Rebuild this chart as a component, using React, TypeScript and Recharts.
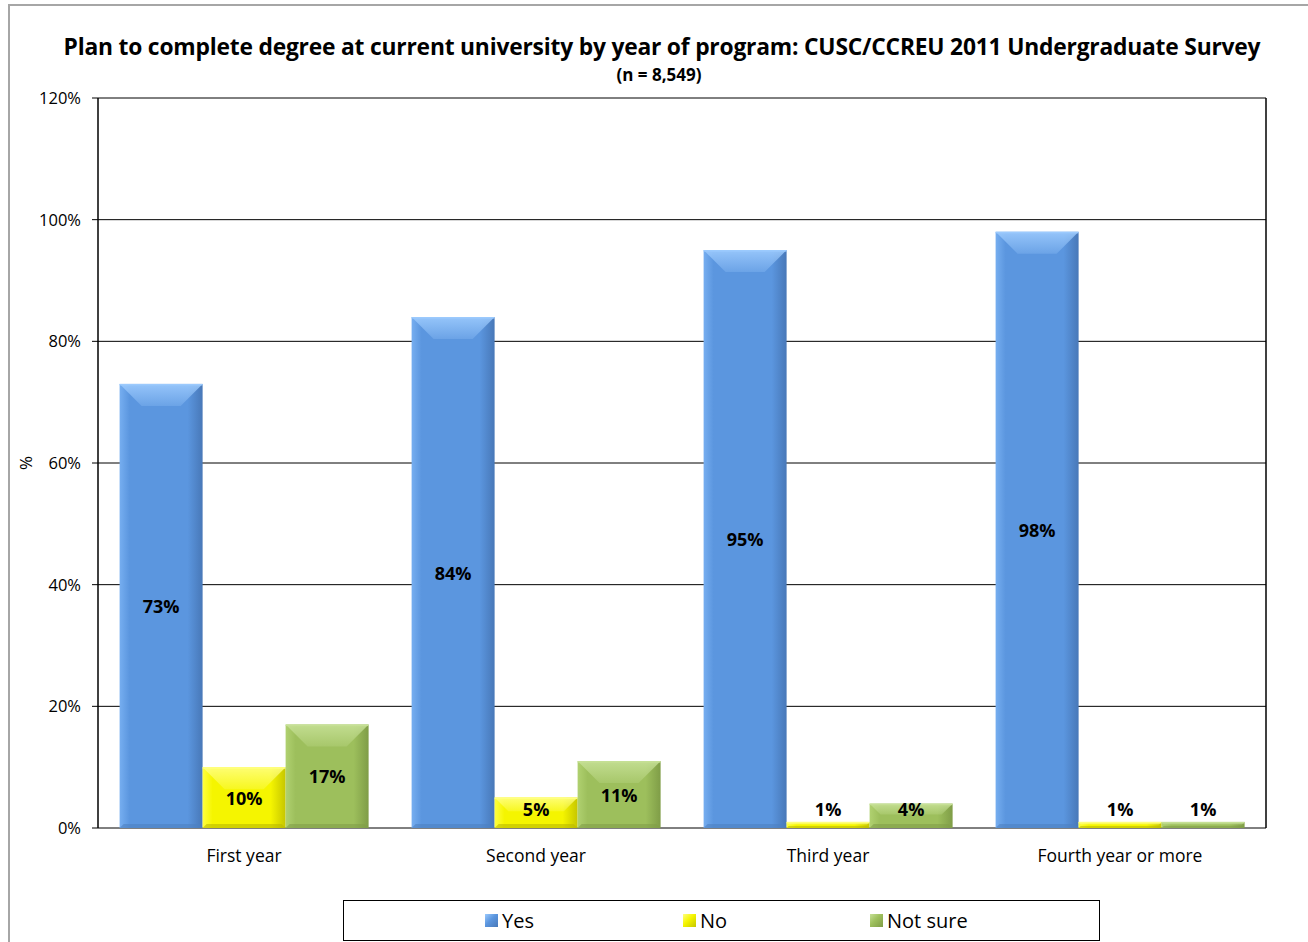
import React from "react";
import { BarChart, Bar, XAxis, YAxis, CartesianGrid, LabelList, ReferenceLine } from "recharts";

// Survey responses by year of program (percent of respondents)
const years = ["First year", "Second year", "Third year", "Fourth year or more"];
const yes = [73, 84, 95, 98];
const no = [10, 5, 1, 1];
const notSure = [17, 11, 4, 1];
const yTicks = [0, 20, 40, 60, 80, 100, 120];

const rows = years.map((year, i) => ({ year, yes: yes[i], no: no[i], notSure: notSure[i], pos: i }));

type Tone = { base: string; light: string; top: string; dark: string; bottom: string };

const TONES: Record<string, Tone> = {
  yes: { base: "#5b96df", light: "#76aef0", top: "#9ccafd", dark: "#4878b8", bottom: "#4d80c2" },
  no: { base: "#f5f500", light: "#ffff40", top: "#ffff80", dark: "#c6c600", bottom: "#b9b900" },
  notSure: { base: "#9dbf5c", light: "#b0d170", top: "#c6e096", dark: "#7f9d47", bottom: "#809e48" },
};

const FONT = "'Open Sans', 'Noto Sans', sans-serif";
const PLOT_BOTTOM = 828;

function BevelBar(props: any) {
  const { x, y, width: w, height: h, toneKey } = props;
  if (!w || h <= 0) return null;
  const t = TONES[toneKey];
  const b = Math.min(22, w * 0.27, h * 0.45);
  const s = Math.min(4, w / 6, h / 3);
  const id = `grad-${toneKey}`;
  const topId = `top-${toneKey}`;
  return (
    <g>
      <defs>
        <linearGradient id={id} x1="0" y1="0" x2="1" y2="0">
          <stop offset="0" stopColor={t.light} />
          <stop offset="0.12" stopColor={t.base} />
          <stop offset="0.82" stopColor={t.base} />
          <stop offset="1" stopColor={t.dark} />
        </linearGradient>
        <linearGradient id={topId} x1="0" y1="0" x2="0" y2="1">
          <stop offset="0" stopColor={t.top} stopOpacity={0.9} />
          <stop offset="1" stopColor={t.top} stopOpacity={0.25} />
        </linearGradient>
      </defs>
      <rect x={x} y={y} width={w} height={h} fill={`url(#${id})`} />
      <polygon
        points={`${x},${y} ${x + w},${y} ${x + w - b},${y + b} ${x + b},${y + b}`}
        fill={`url(#${topId})`}
      />
      <polygon
        points={`${x},${y + h} ${x + w},${y + h} ${x + w - s},${y + h - s} ${x + s},${y + h - s}`}
        fill={t.bottom}
        opacity={0.6}
      />
      <rect x={x} y={y} width={w} height={Math.min(1.5, h)} fill={t.top} />
    </g>
  );
}

function ValueLabel(props: any) {
  const { x, y, width, height, value } = props;
  const cy = Math.min(y + height / 2, PLOT_BOTTOM - 19);
  return (
    <text
      x={x + width / 2}
      y={cy}
      textAnchor="middle"
      dominantBaseline="central"
      fontFamily={FONT}
      fontWeight={700}
      fontSize={18}
      fill="#000"
    >
      {`${value}%`}
    </text>
  );
}

function LegendItem({ label, toneKey, width }: { label: string; toneKey: string; width: number }) {
  const t = TONES[toneKey];
  return (
    <div style={{ display: "flex", alignItems: "center", width }}>
      <div
        style={{
          width: 13,
          height: 13,
          marginRight: 4,
          background: `linear-gradient(135deg, ${t.top} 0%, ${t.base} 45%, ${t.dark} 100%)`,
        }}
      />
      <span>{label}</span>
    </div>
  );
}

export default function App() {
  return (
    <div
      style={{
        position: "fixed",
        left: 0,
        top: 0,
        width: 1308,
        height: 942,
        overflow: "hidden",
        background: "#fff",
        fontFamily: FONT,
      }}
    >
      <div
        style={{
          position: "absolute",
          left: 8,
          top: 4,
          width: 1320,
          height: 960,
          borderLeft: "2px solid #a6a6a6",
          borderTop: "2px solid #a6a6a6",
        }}
      />
      <div
        style={{
          position: "absolute",
          left: 0,
          width: 1324,
          top: 31,
          textAlign: "center",
          fontWeight: 700,
          fontSize: 22.8,
          color: "#000",
          letterSpacing: -0.2,
          whiteSpace: "nowrap",
        }}
      >
        Plan to complete degree at current university by year of program: CUSC/CCREU 2011 Undergraduate Survey
      </div>
      <div
        style={{
          position: "absolute",
          left: 0,
          width: 1318,
          top: 63,
          textAlign: "center",
          fontWeight: 700,
          fontSize: 17,
          color: "#000",
        }}
      >
        (n = 8,549)
      </div>

      <div style={{ position: "absolute", left: 0, top: 0 }}>
        <BarChart
          width={1308}
          height={942}
          data={rows}
          margin={{ top: 98, right: 42, bottom: 84, left: 38 }}
          barCategoryGap="7.4%"
          barGap={0}
        >
          <CartesianGrid vertical={false} stroke="#000" strokeWidth={1} />
          <XAxis
            dataKey="year"
            xAxisId="cat"
            height={30}
            axisLine={false}
            tickLine={false}
            tick={{ fill: "#000", fontSize: 17.5, fontFamily: FONT }}
            tickMargin={16}
          />
          <XAxis
            dataKey="pos"
            xAxisId="edge"
            type="number"
            domain={[0, 4]}
            ticks={[0, 1, 2, 3, 4]}
            height={0}
            tick={false}
            axisLine={{ stroke: "#000", strokeWidth: 1.5 }}
            tickLine={{ stroke: "#000", strokeWidth: 1.5 }}
            tickSize={6}
          />
          <YAxis
            width={60}
            domain={[0, 120]}
            ticks={yTicks}
            tickFormatter={(v) => `${v}%`}
            axisLine={{ stroke: "#000", strokeWidth: 1.5 }}
            tickLine={{ stroke: "#000" }}
            tickSize={6}
            tickMargin={11}
            tick={{ fill: "#000", fontSize: 16.5, fontFamily: FONT }}
            label={(p: any) => {
              const cy = (p.viewBox?.y ?? 98) + (p.viewBox?.height ?? 730) / 2;
              return (
                <text
                  x={25}
                  y={cy}
                  transform={`rotate(-90 25 ${cy})`}
                  textAnchor="middle"
                  dominantBaseline="central"
                  fontFamily={FONT}
                  fontSize={17}
                  fill="#000"
                >
                  %
                </text>
              );
            }}
          />
          <ReferenceLine x={4} xAxisId="edge" stroke="#000" strokeWidth={1.5} />
          <Bar dataKey="yes" xAxisId="cat" isAnimationActive={false} shape={(p: any) => <BevelBar {...p} toneKey="yes" />}>
            <LabelList dataKey="yes" content={ValueLabel} />
          </Bar>
          <Bar dataKey="no" xAxisId="cat" isAnimationActive={false} shape={(p: any) => <BevelBar {...p} toneKey="no" />}>
            <LabelList dataKey="no" content={ValueLabel} />
          </Bar>
          <Bar
            dataKey="notSure"
            xAxisId="cat"
            isAnimationActive={false}
            shape={(p: any) => <BevelBar {...p} toneKey="notSure" />}
          >
            <LabelList dataKey="notSure" content={ValueLabel} />
          </Bar>
        </BarChart>
      </div>

      <div
        style={{
          position: "absolute",
          left: 343,
          top: 900,
          width: 757,
          height: 41,
          border: "1.5px solid #000",
          boxSizing: "border-box",
          display: "flex",
          alignItems: "center",
          paddingLeft: 141,
          fontSize: 20,
          color: "#000",
        }}
      >
        <LegendItem label="Yes" toneKey="yes" width={198} />
        <LegendItem label="No" toneKey="no" width={187} />
        <LegendItem label="Not sure" toneKey="notSure" width={150} />
      </div>
    </div>
  );
}
